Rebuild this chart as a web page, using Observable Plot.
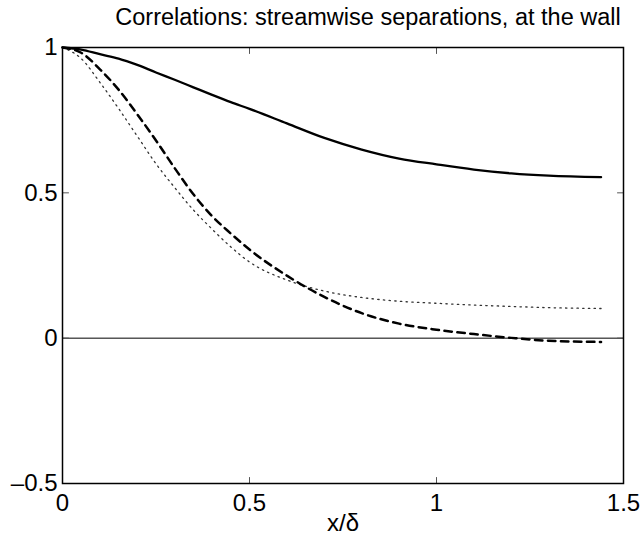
<!DOCTYPE html>
<html>
<head>
<meta charset="utf-8">
<script src="https://cdn.jsdelivr.net/npm/d3@7"></script>
<script src="https://cdn.jsdelivr.net/npm/@observablehq/plot@0.6"></script>
<style>
  html, body { margin: 0; padding: 0; background: white; }
</style>
</head>
<body>
<div id="chart"></div>
<script>
// Data
const titleText = "Correlations: streamwise separations, at the wall";
const xLabel = "x/δ";
const xTicks = [0, 0.5, 1, 1.5];
const yTicks = [-0.5, 0, 0.5, 1];

const xs = [0, 0.05, 0.1, 0.15, 0.2, 0.25, 0.3, 0.35, 0.4, 0.45, 0.5, 0.6, 0.7, 0.8, 0.9, 1.0, 1.1, 1.2, 1.3, 1.44];
const solidY = [1.0, 0.993, 0.977, 0.962, 0.940, 0.914, 0.889, 0.863, 0.837, 0.812, 0.789, 0.739, 0.689, 0.649, 0.618, 0.598, 0.580, 0.567, 0.559, 0.554];
const dashedY = [1.0, 0.982, 0.925, 0.855, 0.770, 0.680, 0.585, 0.495, 0.420, 0.360, 0.305, 0.215, 0.142, 0.086, 0.050, 0.029, 0.014, 0.001, -0.009, -0.013];
const dottedY = [1.0, 0.962, 0.880, 0.790, 0.695, 0.600, 0.518, 0.441, 0.375, 0.314, 0.262, 0.200, 0.162, 0.140, 0.127, 0.120, 0.114, 0.109, 0.105, 0.102];

const toRows = (ys) => xs.map((x, i) => ({x, y: ys[i]}));
const fmt = d => d < 0 ? "\u2013" + String(Math.abs(d)) : String(d);
const tickShape = {draw(context, l) { context.moveTo(0, 0); context.lineTo(0, -l); }};
const font = "'Liberation Sans', Arial, Helvetica, sans-serif";

const chart = Plot.plot({
  width: 644,
  height: 544,
  marginLeft: 62,
  marginRight: 21,
  marginTop: 47,
  marginBottom: 61,
  x: {domain: [0, 1.5]},
  y: {domain: [-0.5, 1]},
  style: {fontFamily: font, fontSize: "24px", background: "white", color: "black", overflow: "visible"},
  marks: [
    Plot.ruleY([0], {stroke: "black", strokeWidth: 1}),
    Plot.line(toRows(dottedY), {x: "x", y: "y", curve: "monotone-x", stroke: "#333", strokeWidth: 1.3, strokeDasharray: "1.4,4.3"}),
    Plot.line(toRows(dashedY), {x: "x", y: "y", curve: "monotone-x", stroke: "black", strokeWidth: 2.5, strokeDasharray: "7.5,5.5"}),
    Plot.line(toRows(solidY), {x: "x", y: "y", curve: "monotone-x", stroke: "black", strokeWidth: 2.3}),
    Plot.vector(xTicks, {x: d => d, frameAnchor: "bottom", rotate: 0, length: 6, anchor: "start", shape: tickShape, stroke: "#555", strokeWidth: 1}),
    Plot.vector(xTicks, {x: d => d, frameAnchor: "top", rotate: 180, length: 6, anchor: "start", shape: tickShape, stroke: "#555", strokeWidth: 1}),
    Plot.vector(yTicks, {y: d => d, frameAnchor: "left", rotate: 90, length: 6, anchor: "start", shape: tickShape, stroke: "#555", strokeWidth: 1}),
    Plot.vector(yTicks, {y: d => d, frameAnchor: "right", rotate: 270, length: 6, anchor: "start", shape: tickShape, stroke: "#555", strokeWidth: 1}),
    Plot.frame({stroke: "black", strokeWidth: 1.5}),
    Plot.axisX(xTicks, {tickSize: 0, tickPadding: 10, tickFormat: fmt, fontSize: 24, label: null}),
    Plot.axisY(yTicks, {tickSize: 0, tickPadding: 5, tickFormat: fmt, fontSize: 24, label: null}),
    Plot.text([titleText], {frameAnchor: "top", dx: 25, dy: -30, fontSize: 23.5, lineAnchor: "middle"}),
    Plot.text([xLabel], {frameAnchor: "bottom", dy: 40, fontSize: 24, lineAnchor: "middle"})
  ]
});
document.getElementById("chart").appendChild(chart);
</script>
</body>
</html>
